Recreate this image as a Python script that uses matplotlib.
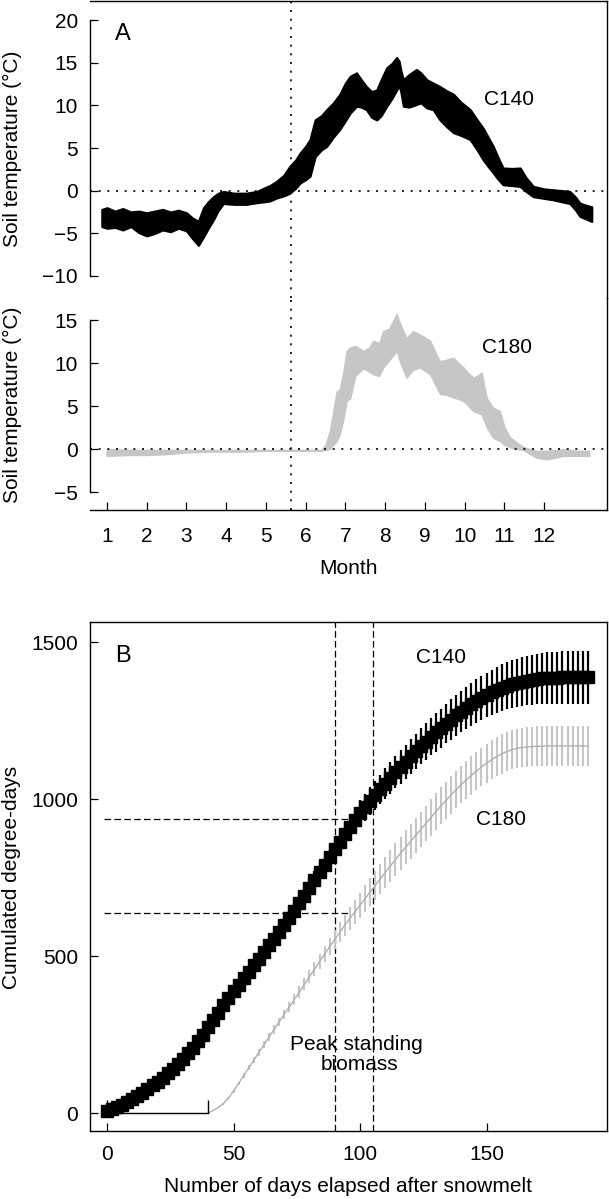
import matplotlib

matplotlib.use("Agg")

import matplotlib.pyplot as plt
import numpy as np

plt.rcParams["font.family"] = ["Liberation Sans", "DejaVu Sans"]

INK = "#000000"
GREY = "#c6c6c6"
GREY_LINE = "#b0b0b0"

# ---- panel A: soil temperature envelope (month, upper, lower) ----
C140_MONTH = [0.87, 1.0, 1.2, 1.4, 1.6, 1.8, 2.0, 2.2, 2.4, 2.6,
              2.8, 3.0, 3.15, 3.3, 3.43, 3.55, 3.68, 3.8, 3.93, 4.2,
              4.5, 4.77, 4.95, 5.1, 5.27, 5.45, 5.6, 5.75, 5.86, 6.0,
              6.11, 6.24, 6.4, 6.53, 6.7, 6.86, 7.0, 7.12, 7.28, 7.4,
              7.53, 7.66, 7.79, 7.9, 8.04, 8.17, 8.29, 8.35, 8.4, 8.46,
              8.6, 8.79, 8.9, 9.05, 9.21, 9.38, 9.55, 9.72, 9.9, 10.14,
              10.3, 10.47, 10.6, 10.72, 10.85, 10.97, 11.2, 11.4, 11.55, 11.73,
              12.0, 12.23, 12.45, 12.65, 12.8, 12.9, 13.05, 13.2]
C140_HI = [-2.2, -2.0, -2.4, -2.1, -2.5, -2.4, -2.6, -2.4, -2.2, -2.5,
           -2.3, -2.6, -3.2, -3.6, -2.0, -1.3, -0.7, -0.3, -0.1, -0.3,
           -0.3, -0.1, 0.3, 0.6, 1.1, 1.8, 2.85, 3.6, 4.4, 5.2,
           6.0, 8.3, 8.8, 9.5, 10.3, 11.3, 12.6, 13.4, 13.8, 13.0,
           12.2, 11.6, 11.8, 13.0, 14.4, 14.9, 15.6, 15.2, 14.0, 13.0,
           13.6, 14.2, 13.8, 13.0, 12.6, 12.2, 11.7, 11.3, 10.4, 9.5,
           8.4, 7.3, 6.2, 5.2, 3.8, 2.65, 2.6, 2.65, 1.5, 0.5,
           0.2, 0.1, 0.0, -0.1, -0.8, -1.45, -1.7, -1.9]
C140_LO = [-4.2, -4.4, -4.3, -4.6, -4.2, -4.9, -5.3, -5.0, -4.6, -4.8,
           -4.4, -4.7, -5.6, -6.4, -5.4, -4.4, -3.4, -2.3, -1.5, -1.6,
           -1.6, -1.4, -1.3, -1.2, -0.85, -0.6, -0.3, 0.3, 0.9, 1.3,
           1.7, 4.0, 4.8, 5.2, 6.3, 7.2, 8.2, 9.1, 9.9, 9.8,
           9.5, 8.6, 8.3, 8.8, 9.9, 10.8, 11.8, 12.4, 11.5, 9.9,
           9.8, 10.1, 10.3, 9.7, 9.5, 8.3, 7.5, 6.8, 6.5, 6.0,
           4.9, 3.6, 2.8, 2.1, 1.3, 0.7, 0.6, 0.5, -0.1, -0.7,
           -0.9, -1.06, -1.3, -1.5, -2.3, -3.0, -3.3, -3.6]

C180_MONTH = [0.99, 1.5, 2.0, 2.5, 3.0, 3.5, 4.0, 4.5, 5.0, 5.5,
              6.0, 6.4, 6.5, 6.61, 6.7, 6.78, 6.86, 6.95, 7.03, 7.12,
              7.25, 7.45, 7.6, 7.7, 7.85, 7.95, 8.1, 8.29, 8.4, 8.54,
              8.7, 8.88, 9.0, 9.13, 9.25, 9.38, 9.55, 9.72, 9.85, 9.97,
              10.1, 10.22, 10.35, 10.43, 10.5, 10.56, 10.72, 10.89, 11.0, 11.14,
              11.3, 11.48, 11.65, 11.81, 12.07, 12.3, 12.48, 12.8, 13.14]
C180_HI = [0.0, -0.1, -0.1, -0.1, -0.1, -0.1, -0.1, -0.1, -0.1, -0.1,
           -0.1, -0.1, 0.5, 2.1, 4.5, 6.7, 6.9, 9.0, 11.4, 11.8,
           12.0, 11.4, 11.8, 12.6, 12.3, 13.7, 14.0, 15.7, 14.3, 12.9,
           13.7, 13.3, 13.0, 12.6, 11.4, 10.2, 10.4, 10.6, 10.0, 9.5,
           8.8, 8.3, 8.6, 8.9, 7.2, 5.9, 4.8, 4.4, 2.6, 1.4,
           0.8, 0.25, 0.0, -0.2, -0.2, -0.1, 0.0, -0.2, -0.2]
C180_LO = [-0.8, -0.7, -0.7, -0.6, -0.4, -0.3, -0.3, -0.3, -0.2, -0.2,
           -0.2, -0.2, -0.1, 0.0, 0.5, 0.9, 1.7, 3.5, 5.6, 5.9,
           8.5, 9.4, 9.0, 8.7, 8.5, 9.5, 10.3, 11.4, 9.8, 8.3,
           9.2, 9.5, 9.1, 8.7, 7.6, 6.4, 6.3, 6.0, 5.8, 5.6,
           5.0, 4.4, 4.2, 4.0, 3.2, 2.5, 1.3, 0.93, 0.5, 0.2,
           0.0, -0.1, -0.6, -1.0, -1.2, -1.0, -0.8, -0.8, -0.8]

MONTH_TICKS = list(range(1, 13))
SNOWMELT_MONTH = 5.63

# ---- panel B: cumulated degree-days (mean and s.d., every 2nd day) ----
C140_DAYS = np.arange(0, 191, 2)
C140_DD = [5, 12, 19, 27, 35, 44, 54, 65, 76, 88,
           100, 113, 126, 140, 156, 173, 190, 208, 228, 250,
           273, 296, 320, 344, 366, 387, 408, 429, 450, 471,
           492, 513, 534, 555, 577, 599, 621, 644, 668, 692,
           716, 741, 766, 791, 816, 840, 864, 888, 911, 933,
           954, 974, 993, 1012, 1031, 1049, 1067, 1085, 1102, 1119,
           1136, 1152, 1168, 1183, 1198, 1212, 1226, 1240, 1253, 1266,
           1278, 1290, 1301, 1312, 1322, 1331, 1340, 1348, 1355, 1361,
           1366, 1370, 1374, 1377, 1380, 1382, 1384, 1385, 1386, 1386,
           1387, 1387, 1387, 1387, 1387, 1387]
C140_SD = [4, 4, 5, 5, 5, 6,
           6, 7, 7, 8, 8, 9, 9, 10, 10, 11,
           11, 12, 12, 13, 13, 14, 14, 15, 16, 16,
           17, 18, 18, 19, 20, 21, 22, 23, 24, 25,
           26, 27, 28, 29, 30, 31, 32, 33, 34, 35,
           37, 38, 39, 41, 42, 43, 45, 46, 47, 49,
           50, 51, 53, 54, 55, 56, 57, 58, 59, 61,
           62, 63, 64, 65, 66, 67, 68, 69, 70, 71,
           72, 73, 74, 75, 76, 77, 78, 79, 80, 81,
           82, 82, 83, 83, 84, 84, 84, 85, 85, 85]

C180_DAYS = np.arange(40, 191, 2)
C180_DD = [0, 8, 18, 30, 48, 70, 94, 119, 144, 168,
           193, 217, 242, 266, 290, 314, 337, 361, 385, 410,
           434, 458, 482, 506, 530, 553, 576, 598, 620, 641,
           662, 683, 704, 725, 746, 766, 787, 807, 827, 846,
           865, 884, 903, 922, 941, 960, 978, 996, 1013, 1030,
           1046, 1061, 1075, 1089, 1102, 1114, 1125, 1135, 1144, 1151,
           1157, 1161, 1164, 1166, 1167, 1168,
           1168, 1169, 1169, 1169, 1169, 1169, 1169, 1169, 1169, 1169]
C180_SD = [0, 1, 2, 3, 4, 5, 6, 7, 8, 9,
           10, 11, 12, 13, 14, 15, 16, 17, 18, 19,
           20, 22, 24, 26, 28, 30, 32, 34, 36, 38,
           40, 42, 44, 46, 48, 50, 51, 52, 53, 54,
           55, 56, 57, 57, 58, 58, 59, 59, 60, 60,
           60, 61, 61, 61, 62, 62, 62, 62, 63, 63,
           63, 63, 63, 63, 63, 63, 63, 63, 63, 63,
           63, 63, 63, 63, 63, 63]

SNOWMELT_LAG = [0, 40]          # days between snowmelt at C140 and C180
PEAK_BIOMASS_DAYS = [90, 105]
PEAK_DEGREE_DAYS = [937, 636]

W, H = 609, 1199
DOTTED = (0, (1.2, 4.0))
DASHED = (0, (5.3, 2.6))


def px_box(left, top, right, bottom):
    """Axes rectangle from pixel edges (origin top-left)."""
    return [left / W, 1 - bottom / H, (right - left) / W, (bottom - top) / H]


def fig_text(fig, x, y, s, **kw):
    fig.text(x / W, 1 - y / H, s, ha="center", va="center", fontsize=15, **kw)


def style(ax):
    ax.tick_params(direction="in", length=5.5, width=0.9, labelsize=15,
                   colors=INK)
    for sp in ax.spines.values():
        sp.set_linewidth(1.0)


fig = plt.figure(figsize=(W / 100, H / 100), dpi=100)

# ---- A, C140 ----
ax_a = fig.add_axes(px_box(90, 1, 607, 298))
style(ax_a)
ax_a.fill_between(C140_MONTH, C140_LO, C140_HI, facecolor=INK,
                  edgecolor=INK, linewidth=1.6, zorder=2)
ax_a.axhline(0, color=INK, lw=1.2, ls=DOTTED, zorder=1)
ax_a.axvline(SNOWMELT_MONTH, color=INK, lw=1.2, ls=DOTTED, zorder=1)
ax_a.set_xlim(0.572, 13.585)
ax_a.set_ylim(-12.58, 22.23)
ax_a.spines["bottom"].set_visible(False)
ax_a.spines["left"].set_bounds(-10, 20)
ax_a.set_yticks([-10, -5, 0, 5, 10, 15, 20])
ax_a.tick_params(axis="x", bottom=False, labelbottom=False)
ax_a.tick_params(axis="y", pad=8.6)
ax_a.text(1.40, 17.7, "A", ha="center", va="baseline", fontsize=17)
ax_a.text(11.12, 10.08, "C140", ha="center", va="baseline", fontsize=15)

# ---- A, C180 ----
ax_m = fig.add_axes(px_box(90, 298, 607, 510))
style(ax_m)
ax_m.fill_between(C180_MONTH, C180_LO, C180_HI, facecolor=GREY,
                  edgecolor=GREY, linewidth=1.0, zorder=2)
ax_m.axhline(0, color=INK, lw=1.2, ls=DOTTED, zorder=3)
ax_m.axvline(SNOWMELT_MONTH, color=INK, lw=1.2, ls=DOTTED, zorder=1)
ax_m.set_xlim(0.572, 13.585)
ax_m.set_ylim(-7.09, 17.56)
ax_m.patch.set_alpha(0)
ax_m.spines["top"].set_visible(False)
ax_m.spines["left"].set_bounds(-5, 15)
ax_m.set_yticks([-5, 0, 5, 10, 15])
ax_m.set_xticks(MONTH_TICKS)
ax_m.tick_params(axis="y", pad=8.6)
ax_m.tick_params(axis="x", pad=12.0)
ax_m.text(11.07, 11.2, "C180", ha="center", va="baseline", fontsize=15)

# ---- B ----
ax_b = fig.add_axes(px_box(90, 622, 607, 1131))
style(ax_b)
for d in PEAK_BIOMASS_DAYS:
    ax_b.axvline(d, color=INK, lw=0.9, ls=DASHED, zorder=1)
for dd in PEAK_DEGREE_DAYS:
    ax_b.plot([-1.2, 96], [dd, dd], color=INK, lw=0.9, ls=DASHED, zorder=1)

c180 = np.array(C180_DD)
c180_sd = np.array(C180_SD)
ax_b.vlines(C180_DAYS, c180 - c180_sd, c180 + c180_sd, color=GREY,
            lw=1.5, zorder=2)
ax_b.plot(C180_DAYS, c180, color=GREY_LINE, lw=1.0, zorder=3)

ax_b.plot(SNOWMELT_LAG, [0, 0], color=INK, lw=1.0, zorder=3)
ax_b.vlines(SNOWMELT_LAG, 0, 40, color=INK, lw=1.0, zorder=3)

c140 = np.array(C140_DD)
c140_sd = np.array(C140_SD)
ax_b.vlines(C140_DAYS, c140 - c140_sd, c140 + c140_sd, color=INK,
            lw=1.6, zorder=4)
ax_b.plot(C140_DAYS, c140, "s", color=INK, ms=9, mec=INK, zorder=5)

ax_b.set_xlim(-6.72, 197.6)
ax_b.set_ylim(-57.3, 1563.7)
ax_b.set_xticks([0, 50, 100, 150])
ax_b.set_yticks([0, 500, 1000, 1500])
ax_b.tick_params(axis="y", pad=8.6)
ax_b.tick_params(axis="x", pad=10.0)
ax_b.text(6.3, 1436, "B", ha="center", va="baseline", fontsize=17)
ax_b.text(131.8, 1433, "C140", ha="center", va="baseline", fontsize=15)
ax_b.text(155.8, 917, "C180", ha="center", va="baseline", fontsize=15)
ax_b.text(98.4, 200, "Peak standing", ha="center", va="baseline", fontsize=15)
ax_b.text(99.6, 137, "biomass", ha="center", va="baseline", fontsize=15)

# ---- axis titles ----
fig_text(fig, 12, 148.5, "Soil temperature (\u00b0C)", rotation=90)
fig_text(fig, 12, 405, "Soil temperature (\u00b0C)", rotation=90)
fig_text(fig, 348.5, 569, "Month")
fig_text(fig, 12, 877, "Cumulated degree-days", rotation=90)
fig_text(fig, 348.5, 1187, "Number of days elapsed after snowmelt")

fig.savefig("out.png", dpi=100)
